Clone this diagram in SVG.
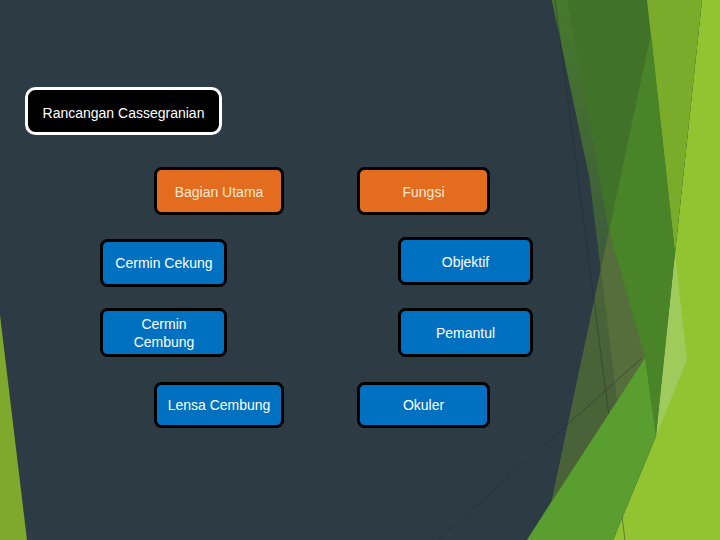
<svg xmlns="http://www.w3.org/2000/svg" width="720" height="540" viewBox="0 0 720 540">
<defs>
<style>
.node rect{stroke:#000;stroke-width:3}
.org rect{fill:#e46c1e}
.blu rect{fill:#0070c0}
.node text{font-family:"Liberation Sans",Arial,sans-serif;font-size:14px;text-anchor:middle}
.org text{fill:#fbe8d3}
.blu text{fill:#ffffff}
.thin{fill:none;stroke:#1f2a30;stroke-width:0.8;opacity:0.55}
</style>
<linearGradient id="strip" gradientUnits="userSpaceOnUse" x1="0" y1="0" x2="0" y2="270">
<stop offset="0" stop-color="#47792d"/>
<stop offset="1" stop-color="#3d5a3c"/>
</linearGradient>
</defs>
<g id="background">
<rect x="0" y="0" width="720" height="540" fill="#2c3b44"/>
<polygon points="0,315 27,540 0,540" fill="#7ea92c"/>
<polygon points="702,0 720,0 720,540 613,540 656,436 675,253" fill="#92c331"/>
<polygon points="552,0 702,0 675,253 656,436 613,540 527,540 552,500 601,270 590,180" fill="#41722a"/>
<polygon points="552,0 567,0 609,231 601,270 590,180" fill="url(#strip)"/>
<polygon points="647,0 702,0 675,253" fill="#7aab2b"/>
<polygon points="675,253 687,360 656,436" fill="#9fca5c"/>
<polygon points="651,34 675,253 656,436 645,358 609,231" fill="#4a8428"/>
<polygon points="609,231 645,358 552,500" fill="#566e3b"/>
<polygon points="601,270 617,401 552,500" fill="#4a6238"/>
<line class="thin" x1="555" y1="0" x2="625" y2="540"/>
<line class="thin" x1="438" y1="540" x2="642" y2="358"/>
<polygon points="645,358 656,436 613,540 527,540" fill="#5a9e30"/>
</g>
<g id="connectors"/>
<g id="title">
<rect x="26.5" y="88.5" width="194" height="45" rx="9" fill="#000" stroke="#fff" stroke-width="3"/>
<text x="123.5" y="118" font-family="Liberation Sans, Arial, sans-serif" font-size="14" fill="#fff" text-anchor="middle">Rancangan Cassegranian</text>
</g>
<g id="bagian-utama" class="node org">
<rect x="155.5" y="168.5" width="127" height="45" rx="6"/>
<text x="219" y="197">Bagian Utama</text>
</g>
<g id="fungsi" class="node org">
<rect x="358.5" y="168.5" width="130" height="45" rx="6"/>
<text x="423.5" y="197">Fungsi</text>
</g>
<g id="cermin-cekung" class="node blu">
<rect x="101.5" y="240.5" width="124" height="45" rx="6"/>
<text x="164" y="268">Cermin Cekung</text>
</g>
<g id="objektif" class="node blu">
<rect x="399.5" y="238.5" width="132" height="45" rx="6"/>
<text x="465.5" y="267">Objektif</text>
</g>
<g id="cermin-cembung" class="node blu">
<rect x="101.5" y="309.5" width="124" height="46" rx="6"/>
<text x="164" y="329">Cermin</text>
<text x="164" y="347">Cembung</text>
</g>
<g id="pemantul" class="node blu">
<rect x="399.5" y="309.5" width="132" height="46" rx="6"/>
<text x="465.5" y="338">Pemantul</text>
</g>
<g id="lensa-cembung" class="node blu">
<rect x="155.5" y="383.5" width="127" height="43" rx="6"/>
<text x="219" y="410">Lensa Cembung</text>
</g>
<g id="okuler" class="node blu">
<rect x="358.5" y="383.5" width="130" height="43" rx="6"/>
<text x="423.5" y="410">Okuler</text>
</g>
</svg>
